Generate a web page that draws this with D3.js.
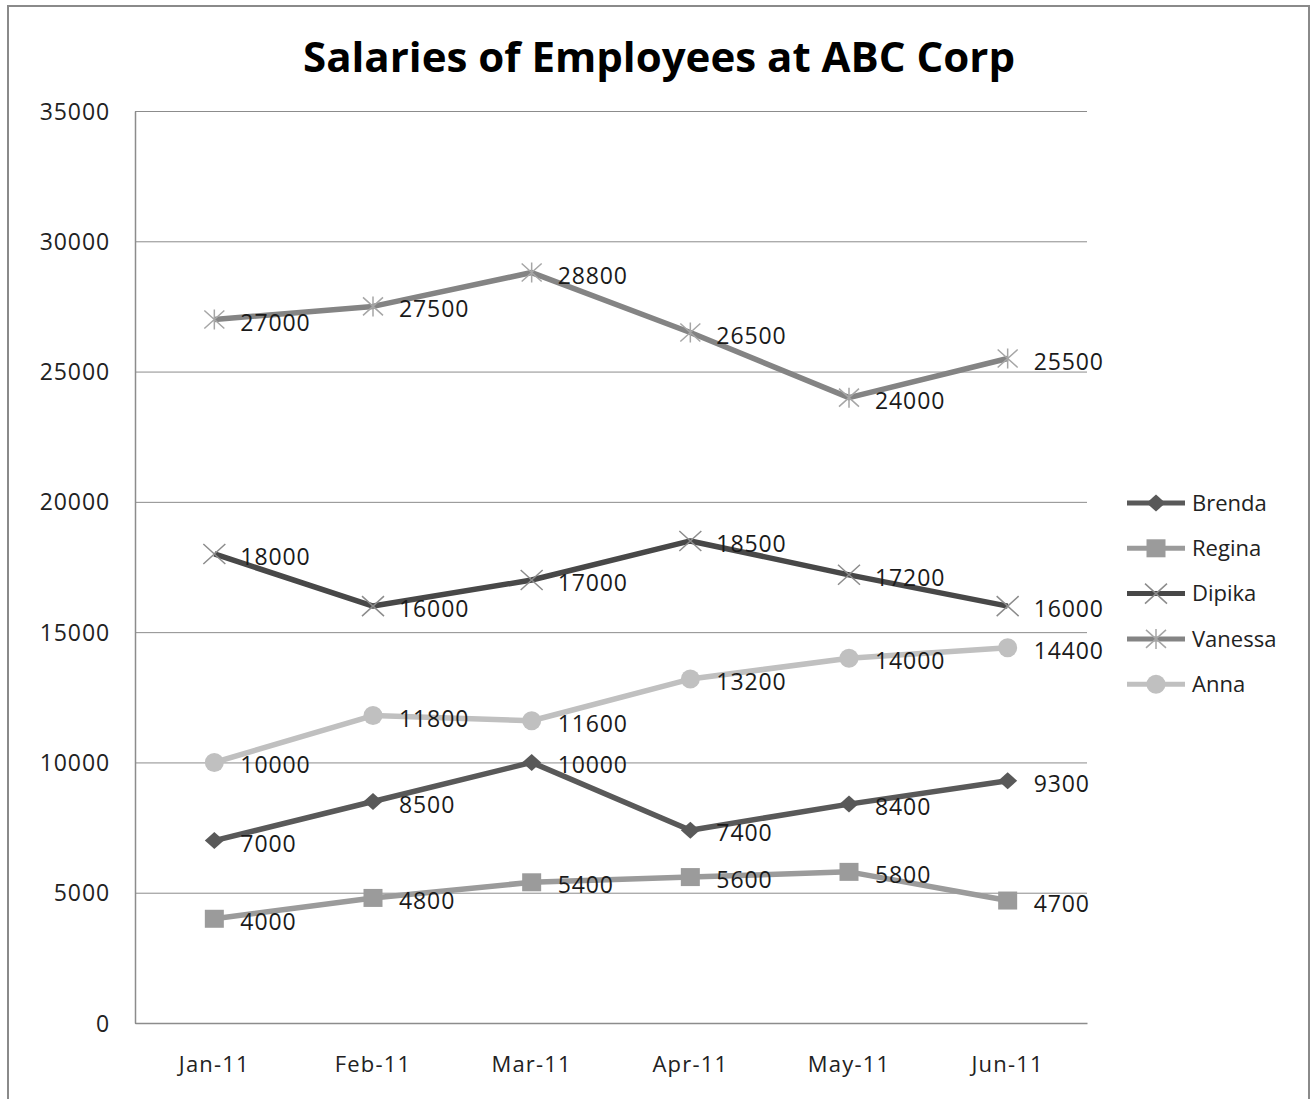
<!DOCTYPE html>
<html>
<head>
<meta charset="utf-8">
<script src="https://cdn.jsdelivr.net/npm/d3@7"></script>
<style>
  html, body { margin: 0; padding: 0; background: #fff; }
  svg { display: block; }
</style>
</head>
<body>
<svg id="chart" width="1316" height="1099"></svg>
<script>
const months = ["Jan-11", "Feb-11", "Mar-11", "Apr-11", "May-11", "Jun-11"];
const names = ["Brenda", "Regina", "Dipika", "Vanessa", "Anna"];
const brenda  = [7000, 8500, 10000, 7400, 8400, 9300];
const regina  = [4000, 4800, 5400, 5600, 5800, 4700];
const dipika  = [18000, 16000, 17000, 18500, 17200, 16000];
const vanessa = [27000, 27500, 28800, 26500, 24000, 25500];
const anna    = [10000, 11800, 11600, 13200, 14000, 14400];
const yTicks  = [0, 5000, 10000, 15000, 20000, 25000, 30000, 35000];
const title = "Salaries of Employees at ABC Corp";

const seriesValues = [brenda, regina, dipika, vanessa, anna];
const styles = [
  { line: "#595959", marker: "diamond", mfill: "#595959" },
  { line: "#9b9b9b", marker: "square",  mfill: "#9b9b9b" },
  { line: "#484848", marker: "x",       mfill: "#8c8c8c" },
  { line: "#848484", marker: "star",    mfill: "#a6a6a6" },
  { line: "#c0c0c0", marker: "circle",  mfill: "#c0c0c0" }
];

const svg = d3.select("#chart");
const font = "'Open Sans', 'DejaVu Sans', sans-serif";

// outer frame
svg.append("rect").attr("x", 8).attr("y", 6).attr("width", 1301).attr("height", 1110)
  .attr("fill", "none").attr("stroke", "#8a8a8a").attr("stroke-width", 2);

const L = 135, R = 1087, T = 111, B = 1023;
const x = d3.scaleBand().domain(months).range([L, R]);
const y = d3.scaleLinear().domain([0, 35000]).range([B, T]);
const cx = m => x(m) + x.bandwidth() / 2;

// gridlines
const grid = svg.append("g").attr("transform", `translate(${L},0)`)
  .call(d3.axisLeft(y).tickValues(yTicks).tickSize(-(R - L)).tickFormat(""));
grid.select(".domain").remove();
grid.selectAll(".tick line").attr("stroke", "#8c8c8c").attr("stroke-width", 1);

// y axis
const yAxis = svg.append("g").attr("transform", `translate(${L},0)`)
  .call(d3.axisLeft(y).tickValues(yTicks).tickSize(0).tickPadding(25).tickFormat(d3.format("d")));
yAxis.select(".domain").attr("stroke", "#8c8c8c").attr("stroke-width", 1.5);
yAxis.selectAll("text").attr("font-family", font).attr("font-size", 23).attr("letter-spacing", 0.9)
  .attr("fill", "#222").attr("dy", "0.35em");

// x axis
const xAxis = svg.append("g").attr("transform", `translate(0,${B})`)
  .call(d3.axisBottom(x).tickSize(0).tickPadding(33));
xAxis.select(".domain").attr("stroke", "#8c8c8c").attr("stroke-width", 1.5);
xAxis.selectAll("text").attr("font-family", font).attr("font-size", 22).attr("letter-spacing", 1.2)
  .attr("fill", "#222").attr("dy", "0.71em");

// title
svg.append("text").attr("x", 659).attr("y", 72).attr("text-anchor", "middle")
  .attr("font-family", font).attr("font-weight", "bold").attr("font-size", 42)
  .attr("textLength", 712).attr("lengthAdjust", "spacingAndGlyphs")
  .attr("fill", "#000").text(title);

function drawMarker(g, type, fill, px, py) {
  if (type === "diamond") {
    g.append("path").attr("d", `M${px},${py - 8.5}L${px + 9.5},${py}L${px},${py + 8.5}L${px - 9.5},${py}Z`).attr("fill", fill);
  } else if (type === "square") {
    g.append("rect").attr("x", px - 9.5).attr("y", py - 9).attr("width", 19).attr("height", 18).attr("fill", fill);
  } else if (type === "circle") {
    g.append("circle").attr("cx", px).attr("cy", py).attr("r", 9.5).attr("fill", fill);
  } else if (type === "x") {
    g.append("path").attr("d", `M${px - 11},${py - 10}L${px + 11},${py + 10}M${px - 11},${py + 10}L${px + 11},${py - 10}`)
      .attr("stroke", fill).attr("stroke-width", 1.5).attr("fill", "none");
  } else if (type === "star") {
    g.append("path").attr("d", `M${px - 10},${py - 9}L${px + 10},${py + 9}M${px - 10},${py + 9}L${px + 10},${py - 9}M${px},${py - 10}L${px},${py + 10}`)
      .attr("stroke", fill).attr("stroke-width", 1.5).attr("fill", "none");
  }
}

const line = d3.line().x((d, i) => cx(months[i])).y(d => y(d));

seriesValues.forEach((vals, si) => {
  const st = styles[si];
  const g = svg.append("g");
  g.append("path").datum(vals).attr("d", line).attr("fill", "none")
    .attr("stroke", st.line).attr("stroke-width", 5.5).attr("stroke-linejoin", "round");
  vals.forEach((v, i) => drawMarker(g, st.marker, st.mfill, cx(months[i]), y(v)));
  g.selectAll("text.lbl").data(vals).enter().append("text")
    .attr("x", (d, i) => cx(months[i]) + 26).attr("y", d => y(d) + 3).attr("dy", "0.35em")
    .attr("font-family", font).attr("font-size", 23).attr("letter-spacing", 0.9)
    .attr("fill", "#1a1a1a").text(d => d);
});

// legend
names.forEach((n, i) => {
  const st = styles[i];
  const ly = 503 + i * 45.3;
  const g = svg.append("g");
  g.append("line").attr("x1", 1127).attr("x2", 1185).attr("y1", ly).attr("y2", ly)
    .attr("stroke", st.line).attr("stroke-width", 5);
  drawMarker(g, st.marker, st.mfill, 1156, ly);
  g.append("text").attr("x", 1192).attr("y", ly).attr("dy", "0.35em")
    .attr("font-family", font).attr("font-size", 22).attr("fill", "#222").text(n);
});
</script>
</body>
</html>
